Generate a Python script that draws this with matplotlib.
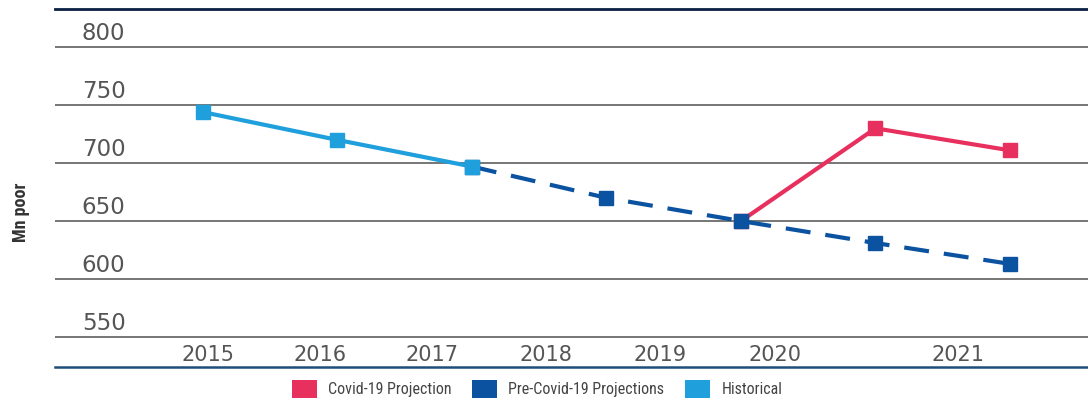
import matplotlib
matplotlib.use("Agg")
import matplotlib.pyplot as plt
from matplotlib.patches import Patch
from matplotlib import font_manager as fm
import numpy as np

years = ["2015", "2016", "2017", "2018", "2019", "2020", "2021"]
historical = [744, 720, 697, None, None, None, None]
pre_covid = [None, None, 697, 670, 650, 631, 613]
covid = [None, None, None, None, 650, 730, 711]
yticks = [550, 600, 650, 700, 750, 800]
year_label_pos = [0.04, 0.87, 1.70, 2.55, 3.40, 4.25, 5.61]

C_COVID = "#E8305F"
C_PRE = "#0B52A0"
C_HIST = "#1F9FDB"

def arr(v):
    return np.array([np.nan if x is None else x for x in v], dtype=float)

fig = plt.figure(figsize=(10.88, 4.01), dpi=100)
ax = fig.add_axes([55/1088, 1-367/401, 1-55/1088, (367-9)/401])
x = np.arange(len(years))

ax.set_xlim(-1.10, 6.58)
ax.set_ylim(524, 833)

for v in yticks:
    ax.axhline(v, color="#6b6b6b", lw=1.3, zorder=1)
    ax.text(0.026, v + 6, str(v), transform=ax.get_yaxis_transform(),
            ha="left", va="baseline", fontsize=16.5, color="#555555", family="DejaVu Sans")

ax.plot(x, arr(covid), color=C_COVID, lw=3, marker="s", markersize=10, zorder=3)
l, = ax.plot(x, arr(pre_covid), color=C_PRE, lw=3, marker="s", markersize=10, zorder=4)
l.set_dashes((6, 3.6))
ax.plot(x, arr(historical), color=C_HIST, lw=3, marker="s", markersize=10, zorder=5)

for pos, lab in zip(year_label_pos, years):
    ax.text(pos, 0.017, lab, transform=ax.get_xaxis_transform(), ha="center", va="baseline",
            fontsize=15, color="#555555", family="DejaVu Sans")

ax.set_xticks([])
ax.set_yticks([])
for s in ["left", "right"]:
    ax.spines[s].set_visible(False)
ax.spines["top"].set_color("#0a1f44")
ax.spines["top"].set_linewidth(2)
ax.spines["bottom"].set_color("#1f4e79")
ax.spines["bottom"].set_linewidth(1.8)

fams = ["Roboto Condensed", "DejaVu Sans"]
cond = fm.FontProperties(family=fams, stretch="condensed", size=11.5)
fig.text(21/1088, 1-212/401, "Mn poor", rotation=90, ha="center", va="center",
         fontproperties=fm.FontProperties(family=fams, stretch="condensed",
                                          weight="bold", size=13), color="#333333")

handles = [Patch(facecolor=C_COVID, label="Covid-19 Projection"),
           Patch(facecolor=C_PRE, label="Pre-Covid-19 Projections"),
           Patch(facecolor=C_HIST, label="Historical")]
fig.legend(handles=handles, loc="center", bbox_to_anchor=(537/1088, 1-389/401), ncol=3,
           frameon=False, prop=cond,
           handlelength=1.57, handleheight=1.3, columnspacing=1.3, handletextpad=0.7,
           labelcolor="#444444")

fig.savefig("out.png", dpi=100)
